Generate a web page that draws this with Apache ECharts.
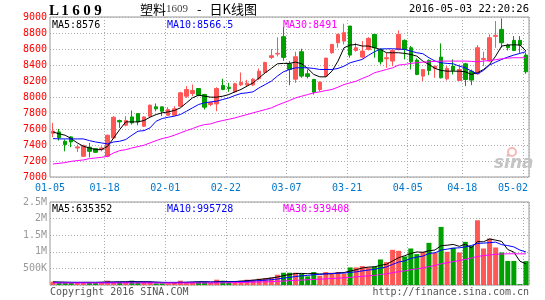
<!DOCTYPE html>
<html><head><meta charset="utf-8">
<script src="https://cdn.jsdelivr.net/npm/echarts@6/dist/echarts.min.js"></script>
<style>html,body{margin:0;padding:0;background:#fff}#c{width:545px;height:300px}</style>
</head><body><div id="c"></div>
<script>
const dates = ['01-05','01-06','01-07','01-08','01-11','01-12','01-13','01-14','01-15','01-18','01-19','01-20','01-21','01-22','01-25','01-26','01-27','01-28','01-29',
'02-01','02-02','02-03','02-04','02-05','02-15','02-16','02-17','02-18','02-19','02-22','02-23','02-24','02-25','02-26','02-29',
'03-01','03-02','03-03','03-04','03-07','03-08','03-09','03-10','03-11','03-14','03-15','03-16','03-17','03-18','03-21','03-22','03-23','03-24','03-25','03-28','03-29','03-30','03-31',
'04-01','04-05','04-06','04-07','04-08','04-11','04-12','04-13','04-14','04-15','04-18','04-19','04-20','04-21','04-22','04-25','04-26','04-27','04-28','04-29','05-02'];
const tickLabels = ['01-05','01-18','02-01','02-22','03-07','03-21','04-05','04-18','05-02'];

const open  = [7547,7564,7447,7501,7363,7259,7372,7355,7342,7259,7488,7706,7647,7751,7793,7635,7760,7877,7877,7772,7772,7885,8010,8044,8106,8031,7906,7914,8144,8123,8065,8152,8152,8152,8231,8307,8495,8537,8754,8415,8223,8566,8290,8219,8094,8261,8553,8678,8699,8887,8582,8499,8595,8783,8595,8478,8449,8595,8708,8616,8461,8261,8457,8357,8499,8227,8386,8207,8415,8323,8290,8470,8449,8758,8845,8649,8708,8708,8524];
const close = [7572,7489,7405,7438,7376,7392,7321,7309,7363,7522,7747,7689,7706,7676,7689,7751,7898,7852,7822,7843,7852,8052,8094,8081,8023,7873,7931,8106,8094,8106,8165,8182,8173,8223,8323,8432,8516,8545,8495,8344,8503,8261,8257,8060,8186,8486,8657,8783,8804,8524,8616,8574,8733,8616,8440,8491,8582,8783,8595,8440,8282,8344,8332,8386,8240,8357,8332,8344,8219,8211,8616,8482,8741,8770,8678,8616,8582,8649,8315];
const low   = [7497,7455,7321,7372,7313,7250,7246,7301,7321,7246,7480,7614,7635,7655,7647,7626,7747,7822,7760,7772,7772,7873,7989,8010,8010,7843,7885,7822,8085,8065,8052,8136,8127,8136,8210,8298,8474,8508,8453,8148,8177,8240,8232,8031,8069,8248,8541,8616,8657,8491,8566,8482,8582,8491,8407,8365,8386,8582,8470,8344,8273,8198,8273,8240,8232,8207,8282,8207,8136,8148,8282,8386,8440,8616,8616,8582,8574,8553,8290];
const high  = [7676,7601,7468,7509,7405,7405,7426,7363,7384,7530,7760,7718,7760,7831,7793,7760,7906,7919,7877,7873,7885,8065,8136,8156,8106,8039,7940,8123,8228,8177,8177,8307,8215,8236,8357,8440,8599,8746,8871,8449,8566,8603,8344,8227,8194,8491,8666,8791,8916,8887,8678,8699,8749,8783,8607,8553,8595,8833,8720,8637,8482,8344,8470,8386,8670,8386,8470,8407,8428,8344,8649,8566,8783,8950,8983,8666,8762,8762,8553];

const ma5  = [7564,7539,7522,7480,7426,7384,7363,7342,7342,7384,7488,7593,7689,7689,7689,7706,7747,7781,7802,7814,7831,7864,7927,7989,8023,8010,7998,7998,8010,8031,8065,8094,8136,8177,8240,8303,8357,8415,8420,8420,8436,8415,8357,8282,8252,8252,8323,8449,8616,8649,8657,8637,8637,8616,8595,8553,8553,8553,8545,8532,8511,8449,8407,8357,8332,8323,8323,8323,8315,8282,8303,8344,8407,8511,8637,8649,8653,8649,8576];
const ma10 = [7480,7476,7476,7476,7476,7476,7455,7438,7426,7413,7438,7447,7468,7522,7572,7580,7614,7697,7731,7747,7760,7781,7822,7864,7906,7927,7939,7948,7969,7989,8019,8044,8052,8065,8115,8156,8198,8261,8315,8344,8365,8365,8365,8357,8344,8344,8344,8357,8386,8428,8449,8470,8520,8565,8600,8603,8603,8599,8595,8574,8553,8541,8491,8449,8428,8420,8415,8386,8365,8323,8290,8332,8399,8436,8470,8499,8524,8545,8566.5];
const ma30 = [7163,7171,7180,7196,7205,7213,7230,7238,7246,7259,7301,7330,7342,7363,7380,7397,7426,7455,7480,7497,7522,7551,7580,7605,7635,7655,7664,7689,7706,7722,7739,7760,7781,7802,7822,7843,7864,7898,7927,7956,7989,8010,8031,8052,8065,8081,8094,8123,8156,8177,8198,8232,8261,8303,8323,8344,8365,8399,8407,8420,8428,8436,8440,8445,8449,8449,8449,8449,8449,8445,8440,8449,8457,8466,8478,8486,8491,8491,8491];

const volume = [100000,90000,60000,60000,90000,90000,90000,60000,90000,130000,90000,90000,90000,130000,90000,90000,90000,50000,50000,50000,90000,130000,90000,80000,90000,90000,60000,160000,130000,90000,80000,130000,160000,160000,190000,210000,230000,310000,370000,370000,370000,340000,260000,390000,280000,390000,370000,390000,340000,530000,530000,570000,530000,560000,770000,690000,1060000,1030000,860000,1100000,930000,1000000,1270000,970000,1750000,1000000,1120000,980000,1300000,1180000,1950000,1100000,1400000,1130000,980000,725000,725000,25000,720000];
const volMa5  = [95,90,85,80,78,80,80,78,85,90,92,98,98,105,100,100,98,85,75,70,68,75,80,90,100,100,90,100,105,105,105,115,130,145,165,185,210,240,280,315,345,350,340,345,330,335,340,365,375,420,460,510,540,545,592,624,722,822,882,948,996,984,1032,1054,1185,1198,1222,1164,1230,1116,1306,1302,1386,1352,1312,1067,992,717,635.352];
const volMa10 = [80,80,80,80,80,80,80,80,80,82,84,85,86,88,88,88,86,84,82,80,80,82,84,86,88,90,90,92,94,96,96,100,110,120,130,145,160,180,205,230,255,275,290,310,320,340,345,355,360,380,395,425,450,470,510,545,620,690,725,800,840,870,950,970,1050,1080,1110,1120,1150,1190,1252,1262,1275,1291,1214,1187,1147,1052,995.728];
const volMa30 = [60,60,60,60,60,60,60,60,60,60,60,60,60,60,60,60,60,60,60,60,60,60,60,60,60,60,60,60,65,68,70,75,80,85,90,95,100,110,120,130,140,148,158,168,175,185,195,205,215,230,245,260,275,290,315,335,370,400,425,460,485,515,555,585,640,670,705,735,775,810,860,885,905,925,935,940,940,938,939.408];

const priceLegend = ['MA5:8576','MA10:8566.5','MA30:8491'];
const volLegend = ['MA5:635352','MA10:995728','MA30:939408'];
const maColors = ['#000000','#0000ff','#ff00ff'];

const RED = '#ff5656', GREEN = '#00a000';
const mono = '"DejaVu Sans Mono", monospace';
const tickIdx = new Set(tickLabels.map(t => dates.indexOf(t)));
const lastIdx = dates.length - 1;
const candles = dates.map((d, i) => [open[i], close[i], low[i], high[i]]);
const volBars = volume.map((v, i) => ({ value: v, itemStyle: { color: close[i] >= open[i] ? RED : GREEN } }));
const k = a => a.map(v => v * 1000);

const dotted = { color: '#aaa', type: [1, 2], width: 1 };
const chart = echarts.init(document.getElementById('c'));
const lineS = (data, color, xi, yi) => ({ type: 'line', data, xAxisIndex: xi, yAxisIndex: yi, symbol: 'none', lineStyle: { color, width: 1 }, itemStyle: { color }, z: 5, silent: true });

chart.setOption({
  animation: false,
  grid: [
    { left: 50, right: 16, top: 17, height: 160, show: true, borderColor: '#999', borderWidth: 1 },
    { left: 50, right: 16, top: 202, height: 83, show: true, borderColor: '#999', borderWidth: 1 }
  ],
  xAxis: [
    { type: 'category', gridIndex: 0, data: dates, boundaryGap: true,
      axisLine: { show: false }, axisTick: { show: false },
      axisLabel: { interval: i => tickIdx.has(i), margin: 6,
        formatter: (v, i) => (i === lastIdx ? '{e|' + v + '}' : '{a|' + v + '}'),
        rich: { a: { padding: [0, 6, 0, 0], color: '#0077cc', fontFamily: mono, fontSize: 10 },
                e: { padding: [0, 26, 0, 0], color: '#0077cc', fontFamily: mono, fontSize: 10 } } },
      splitLine: { show: true, interval: i => tickIdx.has(i) && i > 0, lineStyle: dotted } },
    { type: 'category', gridIndex: 1, data: dates, boundaryGap: true,
      axisLine: { show: false }, axisTick: { show: false }, axisLabel: { show: false },
      splitLine: { show: true, interval: i => tickIdx.has(i) && i > 0, lineStyle: dotted } }
  ],
  yAxis: [
    { type: 'value', gridIndex: 0, min: 7000, max: 9000, interval: 200,
      axisLine: { show: false }, axisTick: { show: false },
      axisLabel: { color: '#ff0000', fontFamily: mono, fontSize: 10, margin: 3, formatter: v => String(v) },
      splitLine: { lineStyle: dotted } },
    { type: 'value', gridIndex: 1, min: 0, max: 2500000, interval: 500000,
      axisLine: { show: false }, axisTick: { show: false },
      axisLabel: { color: '#999', fontFamily: mono, fontSize: 10, margin: 3,
        formatter: v => v === 0 ? '' : (v >= 1e6 ? (v / 1e6) + 'M' : (v / 1e3) + 'K') },
      splitLine: { lineStyle: dotted } }
  ],
  series: [
    { type: 'candlestick', xAxisIndex: 0, yAxisIndex: 0, data: candles, barWidth: 4,
      itemStyle: { color: RED, color0: GREEN, borderColor: RED, borderColor0: GREEN, borderWidth: 1 } },
    lineS(ma5, maColors[0], 0, 0), lineS(ma10, maColors[1], 0, 0), lineS(ma30, maColors[2], 0, 0),
    { type: 'bar', xAxisIndex: 1, yAxisIndex: 1, data: volBars, barWidth: 5 },
    lineS(k(volMa5), maColors[0], 1, 1), lineS(k(volMa10), maColors[1], 1, 1), lineS(k(volMa30), maColors[2], 1, 1)
  ],
  graphic: [
    { type: 'text', left: 49, top: 4, style: { text: '{c|L}{c|1}{c|6}{c|0}{c|9}',
      rich: { c: { width: 11, align: 'center', fontFamily: '"Liberation Serif", serif', fontWeight: 'bold', fontSize: 15, fill: '#000' } } } },
    { type: 'text', left: 140, top: 3, style: { text: '{a|塑料}{b|1609}{c|-}{a|日K线图}',
      rich: { a: { fontFamily: '"Noto Sans CJK SC"', fontSize: 13, fill: '#000' },
              b: { fontFamily: '"Liberation Serif", serif', fontSize: 11, fill: '#444' },
              c: { fontFamily: '"Noto Sans CJK SC"', fontSize: 13, fill: '#000', padding: [0, 8, 0, 9] } } } },
    { type: 'text', right: 16, top: 4, style: { text: '2016-05-03 22:20:26', fontFamily: mono, fontSize: 10.5, fill: '#000' } },
    ...priceLegend.map((t, j) => ({ type: 'text', left: [52, 167, 283][j], top: 20, z: 10, style: { text: t, fontFamily: mono, fontSize: 10, fill: maColors[j] } })),
    ...volLegend.map((t, j) => ({ type: 'text', left: [52, 167, 283][j], top: 204, z: 10, style: { text: t, fontFamily: mono, fontSize: 10, fill: maColors[j] } })),
    { type: 'text', left: 50, top: 287, style: { text: 'Copyright 2016 SINA.COM', fontFamily: mono, fontSize: 10, fill: '#555' } },
    { type: 'text', right: 16, top: 287, style: { text: 'http://finance.sina.com.cn', fontFamily: mono, fontSize: 10, fill: '#555' } },
    { type: 'text', left: 494, top: 155, z: 1, style: { text: 'sina', fontFamily: '"DejaVu Sans", sans-serif', fontStyle: 'italic', fontWeight: 'bold', fontSize: 17, fill: '#c4c4c4' } },
    { type: 'circle', shape: { cx: 512, cy: 152, r: 4 }, z: 1, style: { fill: 'none', stroke: '#f7b8b8', lineWidth: 2 } }
  ]
});
</script></body></html>
